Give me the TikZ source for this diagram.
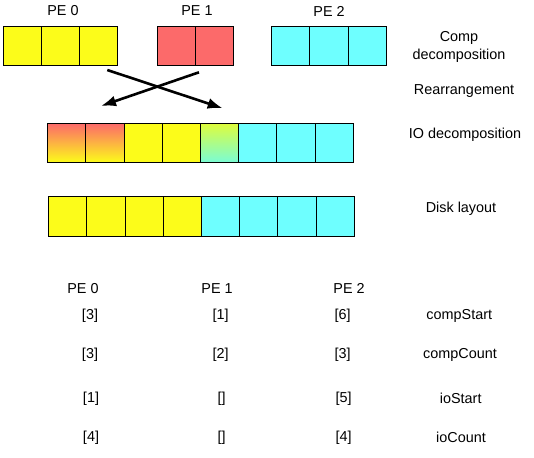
\documentclass[tikz,border=0pt]{standalone}
\usepackage{fontspec}
\setmainfont{Liberation Sans}
\usetikzlibrary{positioning,arrows.meta}
\definecolor{cellyellow}{RGB}{252,252,26}
\definecolor{cellred}{RGB}{252,106,106}
\definecolor{cellcyan}{RGB}{110,255,255}
\definecolor{mixtop}{RGB}{222,252,60}
\definecolor{mixbot}{RGB}{122,252,212}
\tikzset{
cell/.style={draw, line width=0.9pt, inner sep=0pt, outer sep=0pt, minimum width=38.2pt, minimum height=38.8pt},
ycell/.style={cell, fill=cellyellow},
rcell/.style={cell, fill=cellred},
ccell/.style={cell, fill=cellcyan},
rycell/.style={cell, top color=cellred, bottom color=cellyellow},
yccell/.style={cell, top color=mixtop, bottom color=mixbot},
label/.style={inner sep=0pt, align=center},
move/.style={line width=2.6pt, -{Latex[length=15pt,width=11pt]}},
}
\begin{document}
\begin{tikzpicture}[x=1pt, y=-1pt, font=\fontsize{14.4}{18}\selectfont]
    \useasboundingbox (0,0) rectangle (534,457);

    % comp decomposition
    \node[label] (pe0) at (63,11) {PE 0};
    \node[label] (pe1) at (197,11) {PE 1};
    \node[label] (pe2) at (329,11) {PE 2};

    \node[ycell] (a0) at (22.4,45.7) {};
    \node[ycell,right=0pt of a0] (a1) {};
    \node[ycell,right=0pt of a1] (a2) {};
    \node[rcell] (b0) at (176.1,45.7) {};
    \node[rcell,right=0pt of b0] (b1) {};
    \node[ccell] (d0) at (290.8,45.7) {};
    \node[ccell,right=0pt of d0] (d1) {};
    \node[ccell,right=0pt of d1] (d2) {};

    % io decomposition
    \node[rycell] (io0) at (66.8,142.8) {};
    \node[rycell,right=0pt of io0] (io1) {};
    \node[ycell,right=0pt of io1] (io2) {};
    \node[ycell,right=0pt of io2] (io3) {};
    \node[yccell,right=0pt of io3] (io4) {};
    \node[ccell,right=0pt of io4] (io5) {};
    \node[ccell,right=0pt of io5] (io6) {};
    \node[ccell,right=0pt of io6] (io7) {};

    % disk layout
    \node[ycell,minimum height=39.6pt] (dk0) at (67.8,216.2) {};
    \node[ycell,minimum height=39.6pt,right=0pt of dk0] (dk1) {};
    \node[ycell,minimum height=39.6pt,right=0pt of dk1] (dk2) {};
    \node[ycell,minimum height=39.6pt,right=0pt of dk2] (dk3) {};
    \node[ccell,minimum height=39.6pt,right=0pt of dk3] (dk4) {};
    \node[ccell,minimum height=39.6pt,right=0pt of dk4] (dk5) {};
    \node[ccell,minimum height=39.6pt,right=0pt of dk5] (dk6) {};
    \node[ccell,minimum height=39.6pt,right=0pt of dk6] (dk7) {};

    % row labels
    \node[label] (lcomp) at (459,47) {Comp\\decomposition};
    \node[label] (lrearr) at (464,91) {Rearrangement};
    \node[label] (lio) at (465,135) {IO decomposition};
    \node[label] (ldisk) at (461,209) {Disk layout};

    % rearrangement
    \coordinate (s0) at (107.3,70);
    \coordinate (t0) at (222.7,108.3);
    \coordinate (s1) at (199,72.3);
    \coordinate (t1) at (101,106);
    \draw[move] (s0) -- (t0);
    \draw[move] (s1) -- (t1);

    % table
    \node[label] (h0) at (83,288.3) {PE 0};
    \node[label] (h1) at (217,288.3) {PE 1};
    \node[label] (h2) at (349,288.3) {PE 2};

    \node[label] (cs0) at (90,315.7) {[3]};
    \node[label] (cs1) at (220.7,315.7) {[1]};
    \node[label] (cs2) at (342.7,315.7) {[6]};
    \node[label] (cs) at (459.3,315.7) {compStart};

    \node[label] (cc0) at (90,355) {[3]};
    \node[label] (cc1) at (220.7,355) {[2]};
    \node[label] (cc2) at (342.7,355) {[3]};
    \node[label] (cc) at (460,355) {compCount};

    \node[label] (is0) at (91,398.3) {[1]};
    \node[label] (is1) at (221.7,398.3) {[]};
    \node[label] (is2) at (343.7,398.3) {[5]};
    \node[label] (is) at (460.7,398.3) {ioStart};

    \node[label] (ic0) at (91,437.3) {[4]};
    \node[label] (ic1) at (221.7,437.3) {[]};
    \node[label] (ic2) at (343.7,437.3) {[4]};
    \node[label] (ic) at (461,437.3) {ioCount};

\end{tikzpicture}
\end{document}
